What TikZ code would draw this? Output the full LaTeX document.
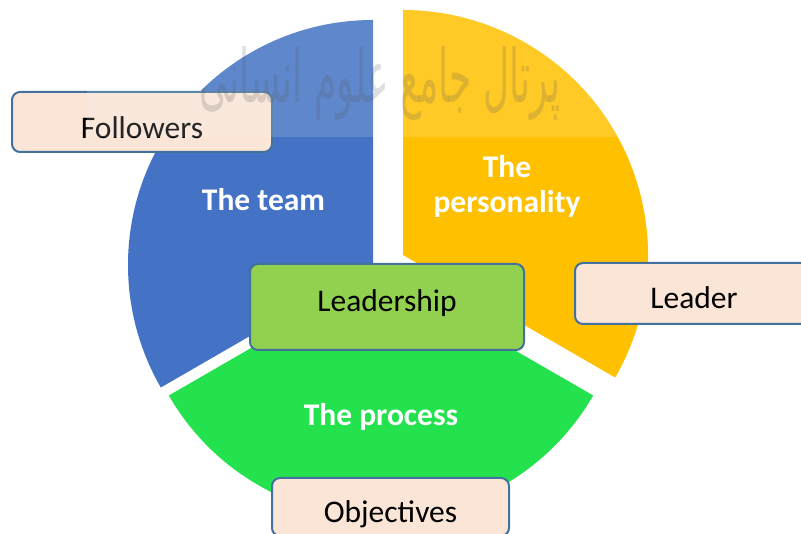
\documentclass[tikz,border=0pt]{standalone}
\usepackage{fontspec}
\usepackage{graphicx}
\setmainfont{Carlito}
\newfontfamily\arabicfont[Script=Arabic]{DejaVu Sans}
\TeXXeTstate=1
\definecolor{teamblue}{HTML}{4472C4}
\definecolor{persyellow}{HTML}{FFC000}
\definecolor{procgreen}{HTML}{24E14E}
\definecolor{leadgreen}{HTML}{92D050}
\definecolor{peach}{HTML}{FBE5D6}
\definecolor{boxborder}{HTML}{41719C}
\begin{document}
\begin{tikzpicture}[x=1pt,y=1pt,
  box/.style={draw=boxborder, line width=2pt, rounded corners=8pt, fill=peach,
    inner sep=0pt, font=\fontsize{31.5}{38}\selectfont, text=black},
  seclabel/.style={text=white, font=\fontsize{31.5}{36}\selectfont\bfseries, inner sep=0pt, anchor=base}]
\useasboundingbox (0,0) rectangle (801,534);
\clip (0,0) rectangle (801,534);
% sectors
\fill[teamblue] (373,269) -- ++(90:245) arc[start angle=90,end angle=210,radius=245] -- cycle;
\fill[persyellow] (403,279) -- ++(-30:245) arc[start angle=-30,end angle=90,radius=245] -- cycle;
\fill[procgreen] (381,261) -- ++(210:245) arc[start angle=210,end angle=330,radius=245] -- cycle;
% sector labels
\node[seclabel] (team) at (263.5,323.5) {The team};
\node[seclabel] (pers1) at (507,356.5) {The};
\node[seclabel] (pers2) at (507,321.5) {personality};
\node[seclabel] (proc) at (381,108.5) {The process};
% boxes
\node[box, minimum width=260pt, minimum height=60pt, text height=33pt, text depth=0pt] (followers) at (142,412) {Followers};
\node[box, minimum width=238pt, minimum height=61pt, text height=30pt, text depth=0pt] (leader) at (694,240.5) {Leader};
\node[box, fill=leadgreen, minimum width=274pt, minimum height=86pt, text height=23pt, text depth=14pt] (leadership) at (387,227) {Leadership};
\node[box, minimum width=237pt, minimum height=58pt, text height=31pt, text depth=0pt] (objectives) at (390.5,27) {Objectives};
% watermark band
\fill[white, opacity=0.15] (87,397) rectangle (720,534);
\node[text=black!65, opacity=0.2, inner sep=0pt] (wm) at (380,450)
  {\resizebox{360pt}{56pt}{\arabicfont\beginR پرتال جامع علوم انسانی\endR}};
\end{tikzpicture}
\end{document}
